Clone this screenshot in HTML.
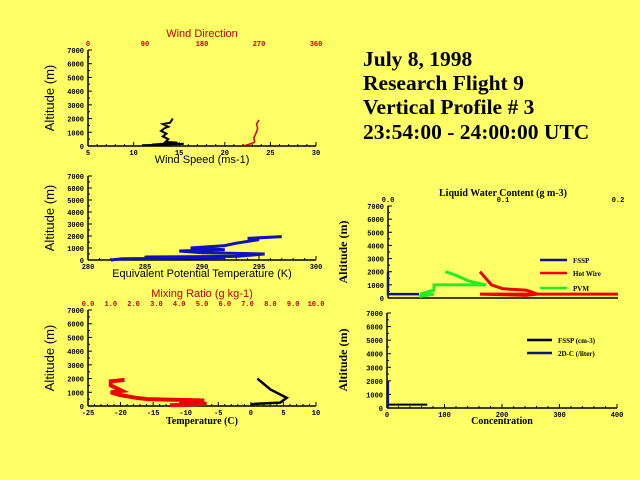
<!DOCTYPE html>
<html><head><meta charset="utf-8"><style>
html,body{margin:0;padding:0;background:#ffff66;}
svg{display:block;}
.t{font-family:"Liberation Serif",serif;font-weight:bold;font-size:21.5px;fill:#000;}
.s{font-family:"Liberation Sans",sans-serif;}
.m{font-family:"Liberation Mono",monospace;font-weight:bold;font-size:7px;}
</style></head><body>
<svg id="chart" width="640" height="480" viewBox="0 0 640 480" xmlns="http://www.w3.org/2000/svg">
<rect width="640" height="480" fill="#ffff66"/>
<g>
<text class="t" x="363" y="66">July 8, 1998</text>
<text class="t" x="363" y="90">Research Flight 9</text>
<text class="t" x="363" y="114">Vertical Profile # 3</text>
<text class="t" x="363" y="139">23:54:00 - 24:00:00 UTC</text>
</g>
<g id="plots"></g>
</svg>
<script>
// ---- data ----
const altTicks = [0,1000,2000,3000,4000,5000,6000,7000];
const windSpdTicks = [5,10,15,20,25,30];
const windDirTicks = [0,90,180,270,360];
const windSpdAlt = [50,150,100,250,300,500,700,900,1100,1300,1400,1600,1700,2000];
const windSpd = [11,15.5,12,14.8,13.5,13.8,13.2,13.6,13.0,13.4,13.8,13.2,14,14.3];
const windDirAlt = [30,60,250,300,600,900,1300,1600,1900];
const windDir = [245,250,262,263,262,265,268,266,270];
const thetaTicks = [280,285,290,295,300];
const thetaAlt = [0,100,200,250,300,500,550,600,750,850,1000,1200,1400,1700,1800,1950];
const theta = [282,283,292,285,293,295.5,293,290,288,292,289,292,293,295,294,297];
const tempTicks = [-25,-20,-15,-10,-5,0,5,10];
const mixTicks = [0,1,2,3,4,5,6,7,8,9,10];
const tempAlt = [100,150,250,600,1200,2000];
const temp = [0,0.5,4.5,5.5,3,1];
const mixAlt = [50,150,300,400,500,600,800,1000,1100,1500,1800,1900];
const mix = [3.6,5.2,4.0,5.1,2.6,2.1,1.4,1.0,1.5,1.0,1.0,1.6];
const lwcTicks = [0,0.1,0.2];
const fsspLwcAlt = [2000,300,300];
const fsspLwc = [0,0,0.027];
const hotAlt = [300,300,200,300,600,700,1000,2000];
const hot = [0.2,0.08,0.12,0.13,0.12,0.1,0.09,0.08];
const pvmAlt = [100,300,300,600,1000,1000,1300,1700,2000];
const pvm = [0.027,0.04,0.028,0.04,0.04,0.085,0.07,0.06,0.05];
const concTicks = [0,100,200,300,400];
const fsspConcAlt = [250,250];
const fsspConc = [0,70];
const twodcAlt = [0,2000];
const twodc = [2,2];

const NS='http://www.w3.org/2000/svg';
const root=document.getElementById('plots');
function el(tag,attrs,parent){const e=document.createElementNS(NS,tag);for(const k in attrs)e.setAttribute(k,attrs[k]);(parent||root).appendChild(e);return e;}
function txt(s,attrs,parent){const e=el('text',attrs,parent);e.textContent=s;return e;}
function scale(d0,d1,r0,r1){return v=>r0+(v-d0)/(d1-d0)*(r1-r0);}

function panel(name,x0,x1,y0,y1){
  const g=el('g',{});
  
  
  const ys=scale(0,7000,y1,y0);
  el('line',{x1:x0,y1:y0,x2:x0,y2:y1,stroke:'#000','stroke-width':1.5},g);
  el('line',{x1:x0,y1:y1,x2:x1,y2:y1,stroke:'#000','stroke-width':1.5},g);
  altTicks.forEach(v=>{
    el('line',{x1:x0,y1:ys(v),x2:x0+4,y2:ys(v),stroke:'#000'},g);
    if(v<7000) el('line',{x1:x0,y1:ys(v+500),x2:x0+2,y2:ys(v+500),stroke:'#000'},g);
    const t=txt(String(v),{x:x0-4,y:ys(v)+3,'text-anchor':'end',class:'m'},g);
    
    
  });
  return {g,ys};
}
function xaxis(g,ticks,x0,x1,y,top,color,fmt){
  const xs=scale(ticks[0],ticks[ticks.length-1],x0,x1);
  const n=ticks.length-1, step=(x1-x0)/n;
  if(!top){
    for(let i=0;i<=n*5;i++){
      const px=x0+i*step/5;
      const len=(i%5===0)?4:2;
      el('line',{x1:px,y1:y,x2:px,y2:y-len,stroke:'#000'},g);
    }
  }
  ticks.forEach(v=>{
    const t=txt(fmt?fmt(v):String(v),{x:xs(v),y:top?y-4:y+9,'text-anchor':'middle',class:'m',fill:color||'#000'},g);
    
    
  });
  return xs;
}
function series(g,name,xs,ys,xv,yv,color,w){
  const pts=xv.map((v,i)=>xs(v).toFixed(1)+','+ys(yv[i]).toFixed(1)).join(' ');
  const p=el('polyline',{points:pts,fill:'none',stroke:color,'stroke-width':w},g);
  
  
}
function ylabel(g,s,x,y,serif){
  const t=txt(s,{x:x,y:y,transform:`rotate(-90 ${x} ${y})`,'text-anchor':'middle','font-size':serif?12:13,'font-family':serif?'Liberation Serif,serif':'Liberation Sans,sans-serif','font-weight':serif?'bold':'normal'},g);
  
  
}
function label(g,s,x,y,color,serif,name){
  const t=txt(s,{x:x,y:y,'text-anchor':'middle','font-size':serif?10:11,'font-family':serif?'Liberation Serif,serif':'Liberation Sans,sans-serif','font-weight':serif?'bold':'normal',fill:color||'#000'},g);
  
  
}

// Panel 1: wind
let P=panel('wind-panel',88,316,50,146);
let xs=xaxis(P.g,windSpdTicks,88,316,146,false);
let xd=xaxis(P.g,windDirTicks,88,316,50,true,'#c00000');
series(P.g,'wind-speed-line',xs,P.ys,windSpd,windSpdAlt,'#000',2);
series(P.g,'wind-direction-line',xd,P.ys,windDir,windDirAlt,'#d00000',1.5);
label(P.g,'Wind Direction',202,37,'#c00000',false,'wind-direction-title');
label(P.g,'Wind Speed (ms-1)',202,163,'#000',false,'wind-speed-title');
ylabel(P.g,'Altitude (m)',54,98);

// Panel 2: theta-e
P=panel('theta-e-panel',88,316,176,260);
let xt=xaxis(P.g,thetaTicks,88,316,260,false);
series(P.g,'theta-e-line',xt,P.ys,theta,thetaAlt,'#1010c0',3);
label(P.g,'Equivalent Potential Temperature (K)',202,277,'#000',false,'theta-e-title');
ylabel(P.g,'Altitude (m)',54,218);

// Panel 3: temperature / mixing ratio
P=panel('temperature-panel',88,316,310,406);
let xT=xaxis(P.g,tempTicks,88,316,406,false);
let xm=xaxis(P.g,mixTicks,88,316,310,true,'#c00000',v=>v.toFixed(1));
series(P.g,'mixing-ratio-line',xm,P.ys,mix,mixAlt,'#ee0000',4);
series(P.g,'temperature-line',xT,P.ys,temp,tempAlt,'#000',2.5);
label(P.g,'Mixing Ratio (g kg-1)',202,297,'#c00000',false,'mixing-ratio-title');
label(P.g,'Temperature (C)',202,424,'#000',true,'temperature-title');
ylabel(P.g,'Altitude (m)',54,358);

// Panel 4: LWC
P=panel('lwc-panel',388,618,206,298);
let xl=xaxis(P.g,lwcTicks,388,618,206,true,'#000',v=>v.toFixed(1));
series(P.g,'pvm-line',xl,P.ys,pvm,pvmAlt,'#22ee22',3);
series(P.g,'hot-wire-line',xl,P.ys,hot,hotAlt,'#ee0000',3);
series(P.g,'fssp-lwc-line',xl,P.ys,fsspLwc,fsspLwcAlt,'#101090',2.5);
label(P.g,'Liquid Water Content (g m-3)',503,196,'#000',true,'lwc-title');
ylabel(P.g,'Altitude (m)',347,252,true);
[['FSSP','#101090',260],['Hot Wire','#ee0000',273],['PVM','#22ee22',288]].forEach(([n,c,y])=>{
  const l=el('line',{x1:540,y1:y,x2:567,y2:y,stroke:c,'stroke-width':2.5},P.g);
  
  
  const t=txt(n,{x:573,y:y+3,'font-size':7,'font-family':'Liberation Serif,serif','font-weight':'bold'},P.g);
  
  
});

// Panel 5: concentration
P=panel('concentration-panel',387,617,313,408);
let xc=xaxis(P.g,concTicks,387,617,408,false);
series(P.g,'fssp-concentration-line',xc,P.ys,fsspConc,fsspConcAlt,'#000',2);
series(P.g,'2dc-concentration-line',xc,P.ys,twodc,twodcAlt,'#101090',2);
label(P.g,'Concentration',502,424,'#000',true,'concentration-title');
ylabel(P.g,'Altitude (m)',347,360,true);
[['FSSP (cm-3)','#000',340],['2D-C (/liter)','#101090',353]].forEach(([n,c,y])=>{
  const l=el('line',{x1:527,y1:y,x2:552,y2:y,stroke:c,'stroke-width':2.5},P.g);
  
  
  const t=txt(n,{x:558,y:y+3,'font-size':7,'font-family':'Liberation Serif,serif','font-weight':'bold'},P.g);
  
  
});
</script>
</body></html>
